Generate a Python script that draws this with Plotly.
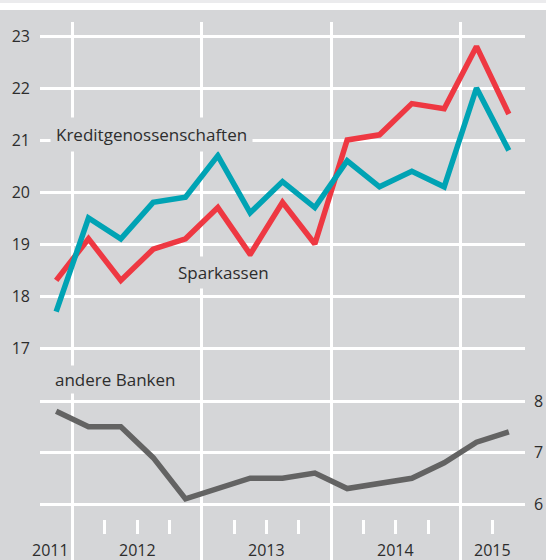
import plotly.graph_objects as go

# ---- data ----
quarters = ["2011-Q4",
            "2012-Q1", "2012-Q2", "2012-Q3", "2012-Q4",
            "2013-Q1", "2013-Q2", "2013-Q3", "2013-Q4",
            "2014-Q1", "2014-Q2", "2014-Q3", "2014-Q4",
            "2015-Q1", "2015-Q2"]
kreditgenossenschaften = [17.7, 19.5, 19.1, 19.8, 19.9, 20.7, 19.6, 20.2, 19.7,
                          20.6, 20.1, 20.4, 20.1, 22.0, 20.8]
sparkassen = [18.3, 19.1, 18.3, 18.9, 19.1, 19.7, 18.8, 19.8, 19.0,
              21.0, 21.1, 21.7, 21.6, 22.8, 21.5]
andere_banken = [7.8, 7.5, 7.5, 6.9, 6.1, 6.3, 6.5, 6.5, 6.6,
                 6.3, 6.4, 6.5, 6.8, 7.2, 7.4]
top_ticks = [17, 18, 19, 20, 21, 22, 23]
bottom_ticks = [6, 7, 8]

# ---- styling ----
BG = "#d5d6d8"
TEAL = "#00a3b4"
RED = "#ee3842"
GREY = "#636363"
TXT = "#2d2d2d"
FONT = "Open Sans"

W, H = 546, 560
idx = list(range(len(quarters)))
years = [q[:4] for q in quarters]
year_bounds = [i - 0.5 for i in idx[1:] if years[i] != years[i - 1]]
XR = [-0.5, len(quarters) - 0.5]
quarter_bounds = [i - 0.5 for i in idx] + [idx[-1] + 0.5]
# keep the edge ticks just inside the range so they are drawn
quarter_bounds = [min(max(b, XR[0] + 0.03), XR[1] - 0.03) for b in quarter_bounds]
year_names = []
for y in years:
    if y not in year_names:
        year_names.append(y)
year_centers = []
for yn in year_names:
    pos = [i for i in idx if years[i] == yn]
    lo = max(min(pos) - 0.5, -0.5)
    hi = max(pos) + 0.5
    year_centers.append((lo + hi) / 2)

plot_top_px = 22
dom_top = (H - plot_top_px) / H

# top axis: 23 at px 36, 17 at px 348
pu1 = (348 - 36) / 6
y1_top = 23 + (36 - plot_top_px) / pu1
y1_bot = 17 - (H - 348) / pu1
# bottom axis: 8 at px 401, 6 at px 504
pu2 = (504 - 401) / 2
y2_top = 8 + (401 - plot_top_px) / pu2
y2_bot = 6 - (H - 504) / pu2

fig = go.Figure()
fig.add_trace(go.Scatter(x=idx, y=sparkassen, mode="lines",
                         line=dict(color=RED, width=5.5), name="Sparkassen",
                         hoverinfo="skip"))
fig.add_trace(go.Scatter(x=idx, y=kreditgenossenschaften, mode="lines",
                         line=dict(color=TEAL, width=5.5),
                         name="Kreditgenossenschaften", hoverinfo="skip"))
fig.add_trace(go.Scatter(x=idx, y=andere_banken, mode="lines", yaxis="y2",
                         line=dict(color=GREY, width=5.5), name="andere Banken",
                         hoverinfo="skip"))
# carrier for the minor-tick axis
fig.add_trace(go.Scatter(x=[None], y=[None], xaxis="x2", mode="lines",
                         showlegend=False, hoverinfo="skip"))

annotations = []
for yn, c in zip(year_names, year_centers):
    annotations.append(dict(x=c, y=(H - 550) / H, xref="x", yref="paper",
                            text=yn, showarrow=False, xanchor="center",
                            yanchor="middle", xshift=-6 if c == year_centers[0] else 0,
                            font=dict(family=FONT, size=16, color=TXT)))
annotations.append(dict(x=-0.19, y=21.1, xref="x", yref="y",
                        text="Kreditgenossenschaften", showarrow=False,
                        xanchor="left", yanchor="middle", bgcolor=BG,
                        borderpad=5, font=dict(family=FONT, size=17, color=TXT)))
annotations.append(dict(x=3.62, y=18.46, xref="x", yref="y",
                        text="Sparkassen", showarrow=False,
                        xanchor="left", yanchor="middle", bgcolor=BG,
                        borderpad=4, font=dict(family=FONT, size=17, color=TXT)))
annotations.append(dict(x=-0.12, y=8.41, xref="x", yref="y2",
                        text="andere Banken", showarrow=False,
                        xanchor="left", yanchor="middle", bgcolor=BG,
                        borderpad=2, font=dict(family=FONT, size=17, color=TXT)))

fig.update_layout(
    width=W, height=H,
    margin=dict(l=0, r=0, t=0, b=0),
    paper_bgcolor=BG, plot_bgcolor=BG,
    showlegend=False,
    xaxis=dict(domain=[40 / W, 525 / W], range=XR, tickvals=year_bounds,
               showticklabels=False, ticks="", showgrid=True,
               gridcolor="white", gridwidth=3, zeroline=False, showline=False,
               fixedrange=True),
    xaxis2=dict(overlaying="x", anchor="free", position=(H - 534) / H,
                side="bottom", range=XR, tickvals=quarter_bounds,
                ticks="inside", ticklen=14, tickwidth=3, tickcolor="white",
                showticklabels=False, showgrid=False, zeroline=False,
                showline=False),
    yaxis=dict(domain=[0, dom_top], range=[y1_bot, y1_top], tickvals=top_ticks,
               showgrid=True, gridcolor="white", gridwidth=3, zeroline=False,
               ticks="", ticklabelstandoff=9,
               tickfont=dict(family=FONT, size=16, color=TXT)),
    yaxis2=dict(overlaying="y", side="right", range=[y2_bot, y2_top],
                tickvals=bottom_ticks, showgrid=True, gridcolor="white",
                gridwidth=3, zeroline=False, ticks="", ticklabelstandoff=8,
                tickfont=dict(family=FONT, size=16, color=TXT)),
    annotations=annotations,
    shapes=[
        dict(type="rect", xref="paper", yref="paper", x0=0, x1=1,
             y0=(H - 10) / H, y1=1, fillcolor="white", line_width=0,
             layer="above"),
        dict(type="rect", xref="paper", yref="paper", x0=0, x1=1,
             y0=(H - 3) / H, y1=1, fillcolor="#ebebed", line_width=0,
             layer="above"),
    ],
)

fig.write_html("out.html",
               config={"displayModeBar": False, "staticPlot": True},
               post_script="document.body.style.margin='0';"
                           "document.body.style.overflow='hidden';")
